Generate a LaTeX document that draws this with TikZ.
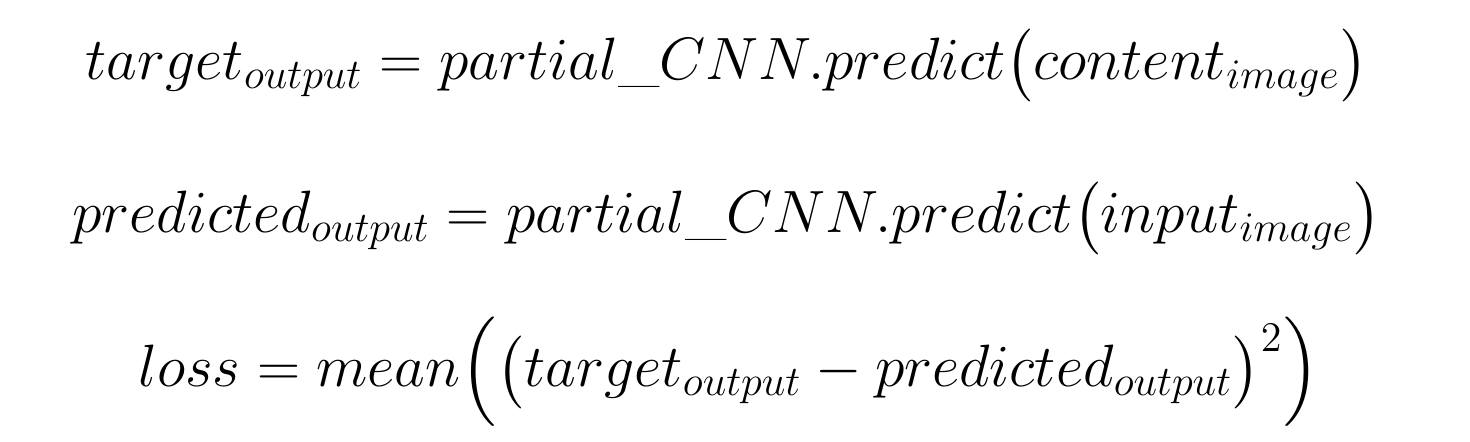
\documentclass[tikz,border=0pt]{standalone}
\usepackage{fix-cm}
\usepackage{exscale}
\usepackage{amsmath}
\usepackage{tikz}
\DeclareMathSizes{17}{17}{12}{9}

\begin{document}
\begin{tikzpicture}[eqn/.style={anchor=base, inner sep=0pt, font=\fontsize{17}{20}\selectfont}]
\useasboundingbox (0,0) rectangle (14.7,4.42);

\node[eqn] (target) at (7.27,3.62)
  {$target_{output} = partial\_CNN.predict\bigl(content_{image}\bigr)$};
\node[eqn] (predicted) at (7.27,2.09)
  {$predicted_{output} = partial\_CNN.predict\bigl(input_{image}\bigr)$};
\node[eqn] (loss) at (7.29,0.55)
  {$loss = mean\Bigl(\bigl(target_{output} - predicted_{output}\bigr)^{2}\Bigr)$};
\end{tikzpicture}
\end{document}
